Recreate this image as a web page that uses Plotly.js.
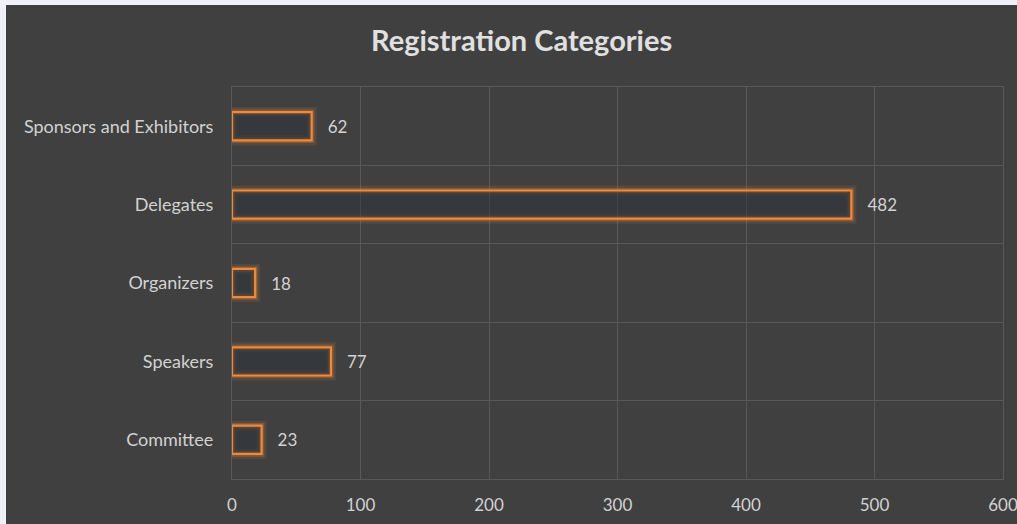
<!DOCTYPE html>
<html>
<head>
<meta charset="utf-8">
<script src="https://cdn.plot.ly/plotly-3.0.1.min.js"></script>
<style>
html,body{margin:0;padding:0;background:#f0f0f8;width:1017px;height:524px;overflow:hidden;}
#chart{position:absolute;left:6px;top:5px;width:1011px;height:519px;}
</style>
</head>
<body>
<div id="chart"></div>
<script>
const categories = ["Sponsors and Exhibitors", "Delegates", "Organizers", "Speakers", "Committee"];
const registrations = [62, 482, 18, 77, 23];
const xTicks = [0, 100, 200, 300, 400, 500, 600];

const orange = "#F08A3A";
const txt = "#d2d2d2";
const grid = "#595959";
const fam = "Lato, 'Open Sans', sans-serif";

const glowOuter = {
  type: "bar", orientation: "h",
  x: registrations, y: categories,
  marker: {color: "rgba(0,0,0,0)", line: {color: "rgba(238,132,48,0.12)", width: 10}},
  width: 0.36, hoverinfo: "skip", showlegend: false
};
const glowInner = {
  type: "bar", orientation: "h",
  x: registrations, y: categories,
  marker: {color: "rgba(0,0,0,0)", line: {color: "rgba(238,132,48,0.28)", width: 5.5}},
  width: 0.36, hoverinfo: "skip", showlegend: false
};
const main = {
  type: "bar", orientation: "h",
  x: registrations, y: categories,
  marker: {color: "rgba(40,46,56,0.45)", line: {color: orange, width: 2.2}},
  width: 0.36,
  texttemplate: "\u00a0\u00a0\u00a0%{x}",
  textposition: "outside",
  cliponaxis: false,
  textfont: {family: fam, size: 17, color: txt},
  showlegend: false
};

const layout = {
  paper_bgcolor: "#404040",
  plot_bgcolor: "#404040",
  margin: {l: 226, r: 14, t: 82, b: 45},
  barmode: "overlay",
  title: {
    text: "<b>Registration Categories</b>",
    x: 0.51, xanchor: "center", y: 0.93, yanchor: "middle",
    font: {family: fam, size: 29, color: "#e0e0e0"}
  },
  xaxis: {
    range: [0, 600],
    tickvals: xTicks,
    ticktext: xTicks.map(String),
    showgrid: true, gridcolor: grid, gridwidth: 1,
    zeroline: false, showline: true, mirror: true, linecolor: grid, linewidth: 1,
    ticks: "", ticklabelstandoff: 11, ticklabeloverflow: "allow",
    tickfont: {family: fam, size: 17, color: txt},
    fixedrange: true
  },
  yaxis: {
    type: "category",
    autorange: "reversed",
    tickson: "boundaries",
    showgrid: true, gridcolor: grid, gridwidth: 1,
    zeroline: false, showline: true, mirror: true, linecolor: grid, linewidth: 1,
    ticks: "", ticklabelstandoff: 14,
    tickfont: {family: fam, size: 18, color: txt},
    fixedrange: true
  },
  font: {family: fam, color: txt}
};

Plotly.newPlot("chart", [glowOuter, glowInner, main], layout, {displayModeBar: false, staticPlot: true});
</script>
</body>
</html>
